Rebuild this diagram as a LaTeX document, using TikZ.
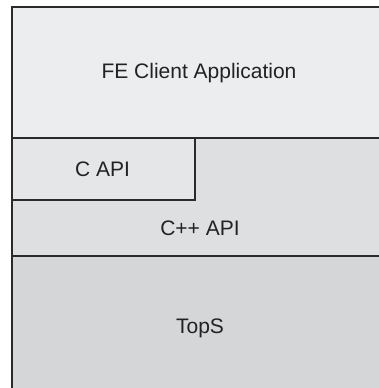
\documentclass[tikz,border=0pt]{standalone}
\usepackage{fontspec}
\setmainfont{Liberation Sans}
\definecolor{lineC}{HTML}{2A2A2A}
\definecolor{feC}{HTML}{ECEDEF}
\definecolor{capiC}{HTML}{E5E6E8}
\definecolor{cppC}{HTML}{DEDFE1}
\definecolor{topsC}{HTML}{D5D6D8}
\definecolor{txtC}{HTML}{222222}
\begin{document}
\begin{tikzpicture}[x=1pt,y=-1pt,
  layer/.style={draw=lineC, line width=2pt, rectangle, inner sep=0pt, anchor=north west},
  lbl/.style={text=txtC, font=\fontsize{21}{25}\selectfont, inner sep=0pt}]
\useasboundingbox (0,0) rectangle (379,388);
\clip (0,0) rectangle (379,388);
\node[layer, fill=topsC, minimum width=379pt, minimum height=140pt] (tops) at (11,255) {};
\node[layer, fill=cppC, minimum width=379pt, minimum height=118pt] (cpp) at (11,137) {};
\node[layer, fill=capiC, minimum width=183pt, minimum height=62pt] (capi) at (11,137) {};
\node[layer, fill=feC, minimum width=379pt, minimum height=131pt] (fe) at (11,6) {};
\node[lbl] (feL) at (199,73) {FE Client Application};
\node[lbl] (capiL) at (102.5,169) {C API};
\node[lbl] (cppL) at (200,228) {C++ API};
\node[lbl] (topsL) at (200,328) {TopS};
\end{tikzpicture}
\end{document}
